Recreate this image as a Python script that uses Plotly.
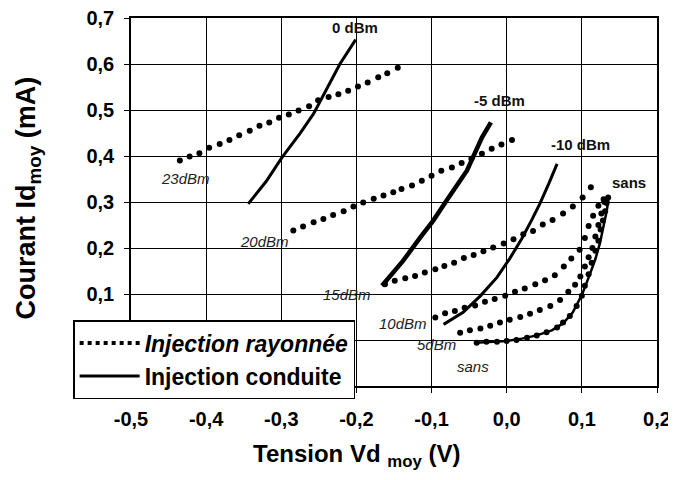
import plotly.graph_objects as go

# ---------------- data ----------------
# Injection rayonnée (dotted / markers)
rad_23dBm_x = [-0.435, -0.422, -0.409, -0.396, -0.382, -0.369, -0.356, -0.342, -0.329, -0.316,
               -0.303, -0.290, -0.277, -0.263, -0.251, -0.237, -0.224, -0.211, -0.198, -0.185,
               -0.171, -0.159, -0.145]
rad_23dBm_y = [0.390, 0.399, 0.406, 0.418, 0.426, 0.435, 0.445, 0.455, 0.466, 0.473,
               0.483, 0.490, 0.499, 0.508, 0.521, 0.528, 0.534, 0.542, 0.551, 0.560,
               0.571, 0.580, 0.592]

rad_20dBm_x = [-0.284, -0.271, -0.257, -0.244, -0.231, -0.217, -0.204, -0.191, -0.177, -0.164,
               -0.151, -0.140, -0.126, -0.113, -0.100, -0.087, -0.073, -0.060, -0.047, -0.033,
               -0.020, -0.007, 0.007]
rad_20dBm_y = [0.238, 0.247, 0.256, 0.263, 0.272, 0.280, 0.290, 0.299, 0.307, 0.314,
               0.321, 0.328, 0.336, 0.346, 0.357, 0.368, 0.375, 0.385, 0.394, 0.405,
               0.416, 0.425, 0.435]

rad_15dBm_x = [-0.162, -0.149, -0.135, -0.122, -0.109, -0.095, -0.083, -0.070, -0.057, -0.044,
               -0.031, -0.018, -0.004, 0.009, 0.022, 0.035, 0.048, 0.061, 0.075, 0.088,
               0.101, 0.112]
rad_15dBm_y = [0.121, 0.129, 0.134, 0.139, 0.147, 0.154, 0.161, 0.168, 0.178, 0.185,
               0.193, 0.201, 0.210, 0.219, 0.230, 0.237, 0.251, 0.261, 0.275, 0.290,
               0.310, 0.332]

rad_10dBm_x = [-0.095, -0.082, -0.069, -0.056, -0.042, -0.029, -0.016, -0.002, 0.011, 0.024,
               0.038, 0.051, 0.064, 0.076, 0.086, 0.097, 0.104, 0.109, 0.115, 0.122, 0.129]
rad_10dBm_y = [0.049, 0.058, 0.063, 0.070, 0.075, 0.083, 0.089, 0.096, 0.105, 0.112,
               0.121, 0.130, 0.141, 0.160, 0.177, 0.196, 0.222, 0.248, 0.270, 0.292, 0.306]

rad_5dBm_x = [-0.062, -0.049, -0.035, -0.022, -0.009, 0.004, 0.018, 0.031, 0.044, 0.058,
              0.071, 0.082, 0.091, 0.098, 0.104, 0.109, 0.114, 0.118, 0.122, 0.126, 0.130]
rad_5dBm_y = [0.016, 0.021, 0.025, 0.031, 0.038, 0.044, 0.050, 0.057, 0.065, 0.074,
              0.087, 0.105, 0.120, 0.138, 0.160, 0.180, 0.200, 0.225, 0.250, 0.275, 0.300]

rad_sans_x = [-0.040, -0.027, -0.013, 0.000, 0.013, 0.027, 0.040, 0.053, 0.067, 0.075,
              0.084, 0.093, 0.100, 0.104, 0.109, 0.113, 0.118, 0.122, 0.125, 0.128,
              0.131, 0.133, 0.135]
rad_sans_y = [-0.006, -0.004, -0.004, -0.002, 0.000, 0.005, 0.010, 0.017, 0.027, 0.038,
              0.052, 0.074, 0.096, 0.118, 0.143, 0.168, 0.194, 0.216, 0.240, 0.260,
              0.280, 0.298, 0.310]

# Injection conduite (solid lines)
con_0dBm_x = [-0.344, -0.320, -0.299, -0.275, -0.257, -0.240, -0.222, -0.201]
con_0dBm_y = [0.296, 0.345, 0.397, 0.449, 0.492, 0.545, 0.600, 0.653]

con_m5dBm_x = [-0.166, -0.138, -0.115, -0.098, -0.080, -0.053, -0.033, -0.021]
con_m5dBm_y = [0.118, 0.172, 0.223, 0.259, 0.303, 0.368, 0.440, 0.473]

con_m10dBm_x = [-0.084, -0.058, -0.035, -0.013, 0.004, 0.020, 0.033, 0.044, 0.056, 0.067]
con_m10dBm_y = [0.034, 0.060, 0.096, 0.136, 0.177, 0.220, 0.260, 0.296, 0.340, 0.383]

con_sans_x = [-0.042, -0.020, 0.000, 0.020, 0.040, 0.060, 0.075, 0.088, 0.100, 0.110,
              0.118, 0.124, 0.129, 0.133, 0.136]
con_sans_y = [-0.006, -0.004, -0.002, 0.003, 0.010, 0.021, 0.036, 0.060, 0.098, 0.140,
              0.176, 0.210, 0.248, 0.280, 0.312]

# curve labels
rad_labels = ["23dBm", "20dBm", "15dBm", "10dBm", "5dBm", "sans"]
rad_label_x = [-0.428, -0.322, -0.212, -0.138, -0.093, -0.045]
rad_label_y = [0.351, 0.214, 0.100, 0.035, -0.009, -0.057]

con_labels = ["0 dBm", "-5 dBm", "-10 dBm", "sans"]
con_label_x = [-0.202, -0.009, 0.098, 0.163]
con_label_y = [0.680, 0.521, 0.425, 0.342]

x_ticks = [-0.5, -0.4, -0.3, -0.2, -0.1, 0.0, 0.1, 0.2]
x_ticktext = ["-0,5", "-0,4", "-0,3", "-0,2", "-0,1", "0,0", "0,1", "0,2"]
y_ticks = [-0.1, 0.0, 0.1, 0.2, 0.3, 0.4, 0.5, 0.6, 0.7]
y_ticktext = ["", "", "0,1", "0,2", "0,3", "0,4", "0,5", "0,6", "0,7"]

# ---------------- figure ----------------
FONT = "Arial, Liberation Sans, sans-serif"
fig = go.Figure()

rad_series = [(rad_23dBm_x, rad_23dBm_y), (rad_20dBm_x, rad_20dBm_y), (rad_15dBm_x, rad_15dBm_y),
              (rad_10dBm_x, rad_10dBm_y), (rad_5dBm_x, rad_5dBm_y), (rad_sans_x, rad_sans_y)]
for xs, ys in rad_series:
    fig.add_trace(go.Scatter(x=xs, y=ys, mode="markers", showlegend=False,
                             marker=dict(color="black", size=6, symbol="circle")))

con_series = [(con_0dBm_x, con_0dBm_y, 3), (con_m5dBm_x, con_m5dBm_y, 4.5),
              (con_m10dBm_x, con_m10dBm_y, 3), (con_sans_x, con_sans_y, 2.5)]
for xs, ys, w in con_series:
    fig.add_trace(go.Scatter(x=xs, y=ys, mode="lines", showlegend=False,
                             line=dict(color="black", width=w)))

# legend entries
fig.add_trace(go.Scatter(x=[None], y=[None], mode="lines", name="<i>Injection rayonnée</i>",
                         line=dict(color="black", width=4, dash="dot")))
fig.add_trace(go.Scatter(x=[None], y=[None], mode="lines", name="Injection conduite",
                         line=dict(color="black", width=3)))

for t, x, y in zip(rad_labels, rad_label_x, rad_label_y):
    fig.add_annotation(x=x, y=y, text="<i>" + t + "</i>", showarrow=False,
                       font=dict(family=FONT, size=15, color="#222"))
for t, x, y in zip(con_labels, con_label_x, con_label_y):
    fig.add_annotation(x=x, y=y, text="<b>" + t + "</b>", showarrow=False,
                       font=dict(family=FONT, size=15, color="#111"))

# axis titles
fig.add_annotation(xref="paper", yref="paper", x=0.428, y=-0.1875,
                   xanchor="center", yanchor="middle",
                   text="<b>Tension Vd <sub>moy</sub> (V)</b>", showarrow=False,
                   font=dict(family=FONT, size=24, color="black"))
fig.add_annotation(xref="paper", yref="paper", x=-0.196, y=0.512, textangle=-90,
                   xanchor="center", yanchor="middle",
                   text="<b>Courant Id<sub>moy</sub> (mA)</b>", showarrow=False,
                   font=dict(family=FONT, size=27, color="black"))

# the page body adds an 8px offset; margins compensate for it
fig.update_layout(
    width=676, height=480,
    margin=dict(l=123, r=27, t=10, b=102, autoexpand=False),
    paper_bgcolor="white", plot_bgcolor="white",
    font=dict(family=FONT, color="black"),
    showlegend=True,
    legend=dict(x=-0.110, y=0.179, xanchor="left", yanchor="top",
                bgcolor="white", bordercolor="black", borderwidth=1.5,
                font=dict(family=FONT, size=23, color="black", weight="bold"),
                itemwidth=60, tracegroupgap=0),
    xaxis=dict(range=[-0.5, 0.2], tickvals=x_ticks, ticktext=x_ticktext,
               showgrid=True, gridcolor="black", gridwidth=1, zeroline=False,
               showline=True, linecolor="black", linewidth=1.5, mirror=True,
               ticks="outside", ticklen=5, tickcolor="black", ticklabelstandoff=9,
               ticklabeloverflow="allow",
               tickfont=dict(family=FONT, size=20, color="black", weight="bold")),
    yaxis=dict(range=[-0.1, 0.7], tickvals=y_ticks, ticktext=y_ticktext,
               showgrid=True, gridcolor="black", gridwidth=1, zeroline=False,
               showline=True, linecolor="black", linewidth=1.5, mirror=True,
               ticks="outside", ticklen=5, tickcolor="black", ticklabelstandoff=6,
               ticklabeloverflow="allow",
               tickfont=dict(family=FONT, size=20, color="black", weight="bold")),
)

fig.write_html("out.html")
